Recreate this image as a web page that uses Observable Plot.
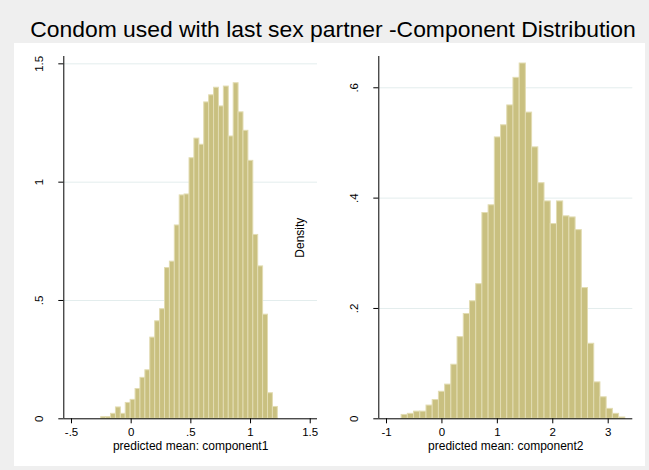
<!DOCTYPE html>
<html><head><meta charset="utf-8">
<script src="https://cdn.jsdelivr.net/npm/d3@7"></script>
<script src="https://cdn.jsdelivr.net/npm/@observablehq/plot@0.6"></script>
<style>
body{margin:0;background:#efefef;}
#wrap{position:relative;width:649px;height:470px;background:#efefef;overflow:hidden;font-family:"Liberation Sans",Arial,sans-serif;}
#title{position:absolute;left:0;width:666px;top:18px;text-align:center;font-size:22.9px;line-height:23px;color:#000;white-space:nowrap;}
#inner{position:absolute;left:14px;top:43px;width:631px;height:423px;background:#fff;}
#left,#right{position:absolute;top:43px;}
#left{left:14px;}
#right{left:285px;}
</style></head><body>
<div id="wrap">
  <div id="title">Condom used with last sex partner -Component Distribution</div>
  <div id="inner"></div>
  <div id="left"></div>
  <div id="right"></div>
</div>
<script>
// ---- data ----
const leftDensity = [0.007, 0.007, 0.021, 0.048, 0.021, 0.067, 0.080, 0.126, 0.173, 0.205,
  0.343, 0.412, 0.463, 0.637, 0.664, 0.817, 0.944, 0.948, 1.101, 1.184,
  1.158, 1.337, 1.367, 1.399, 1.320, 1.404, 1.193, 1.418, 1.295, 1.217,
  1.090, 0.777, 0.644, 0.440, 0.108, 0.050];
const leftBinStart = -0.251;
const leftBinWidth = 0.0411;
const leftXTicks = [-0.5, 0, 0.5, 1, 1.5];
const leftXTickLabels = ["-.5", "0", ".5", "1", "1.5"];
const leftYTicks = [0, 0.5, 1, 1.5];
const leftYTickLabels = ["0", ".5", "1", "1.5"];
const leftXLabel = "predicted mean: component1";

const rightDensity = [0.007, 0.009, 0.013, 0.013, 0.024, 0.034, 0.049, 0.062, 0.098, 0.148,
  0.190, 0.213, 0.244, 0.373, 0.387, 0.510, 0.532, 0.568, 0.618, 0.644,
  0.555, 0.492, 0.427, 0.394, 0.353, 0.394, 0.367, 0.365, 0.342, 0.237,
  0.136, 0.066, 0.039, 0.018, 0.009, 0.0024];
const rightBinStart = -0.727;
const rightBinWidth = 0.1121;
const rightXTicks = [-1, 0, 1, 2, 3];
const rightXTickLabels = ["-1", "0", "1", "2", "3"];
const rightYTicks = [0, 0.2, 0.4, 0.6];
const rightYTickLabels = ["0", ".2", ".4", ".6"];
const rightXLabel = "predicted mean: component2";
const yTitle = "Density";

// ---- drawing ----
function panel(o) {
  const table = o.density.map((v, i) => ({
    x1: o.binStart + i * o.binWidth,
    x2: o.binStart + (i + 1) * o.binWidth,
    y: v
  }));
  const xfmt = new Map(o.xTicks.map((t, i) => [t, o.xTickLabels[i]]));
  const marks = [
    Plot.gridY(o.yTicks.filter(d => d > 0), {stroke: "#e3eded", strokeOpacity: 1, strokeWidth: 1}),
    Plot.rect(table, {x1: "x1", x2: "x2", y1: () => 0, y2: "y", fill: "#c9c080", stroke: "#e2dcb2", strokeWidth: 1}),
    Plot.ruleY([0], {stroke: "#000", strokeWidth: 1}),
    Plot.ruleX([o.xDomain[0]], {stroke: "#000", strokeWidth: 1}),
    Plot.axisX(o.xTicks, {tickSize: 5, tickPadding: 4, tickFormat: d => xfmt.get(d), fontSize: 11.5, label: null, stroke: "#000"}),
    Plot.axisY(o.yTicks, {tickSize: 5, tickFormat: () => "", label: null, stroke: "#000"}),
    Plot.text(o.yTicks, {y: d => d, text: (d, i) => o.yTickLabels[i], frameAnchor: "left", dx: -21, rotate: -90, textAnchor: "middle", lineAnchor: "bottom", fontSize: 11.5, fill: "#000"}),
    Plot.text([o.xLabel], {frameAnchor: "bottom", dy: 31, lineAnchor: "bottom", fontSize: 12, fill: "#000"})
  ];
  if (o.yTitle) {
    marks.push(Plot.text([o.yTitle], {frameAnchor: "left", dx: o.yTitleDx, rotate: -90, textAnchor: "middle", lineAnchor: "bottom", fontSize: 12, fill: "#000"}));
  }
  return Plot.plot({
    width: o.width,
    height: 423,
    marginLeft: o.marginLeft,
    marginRight: o.marginRight,
    marginTop: 13,
    marginBottom: 47.7,
    x: {domain: o.xDomain},
    y: {domain: o.yDomain},
    style: {background: "transparent", color: "#000", fontFamily: "'Liberation Sans', Arial, sans-serif", fontSize: "12px", overflow: "visible"},
    marks
  });
}

document.getElementById("left").appendChild(panel({
  density: leftDensity, binStart: leftBinStart, binWidth: leftBinWidth,
  xTicks: leftXTicks, xTickLabels: leftXTickLabels,
  yTicks: leftYTicks, yTickLabels: leftYTickLabels,
  xLabel: leftXLabel,
  xDomain: [-0.5645, 1.561], yDomain: [0, 1.531],
  width: 316, marginLeft: 49.3, marginRight: 13
}));

document.getElementById("right").appendChild(panel({
  density: rightDensity, binStart: rightBinStart, binWidth: rightBinWidth,
  xTicks: rightXTicks, xTickLabels: rightXTickLabels,
  yTicks: rightYTicks, yTickLabels: rightYTickLabels,
  xLabel: rightXLabel,
  xDomain: [-1.139, 3.444], yDomain: [0, 0.6567],
  width: 360, marginLeft: 93.3, marginRight: 12.7,
  yTitle: yTitle, yTitleDx: -75.3
}));
</script>
</body></html>
